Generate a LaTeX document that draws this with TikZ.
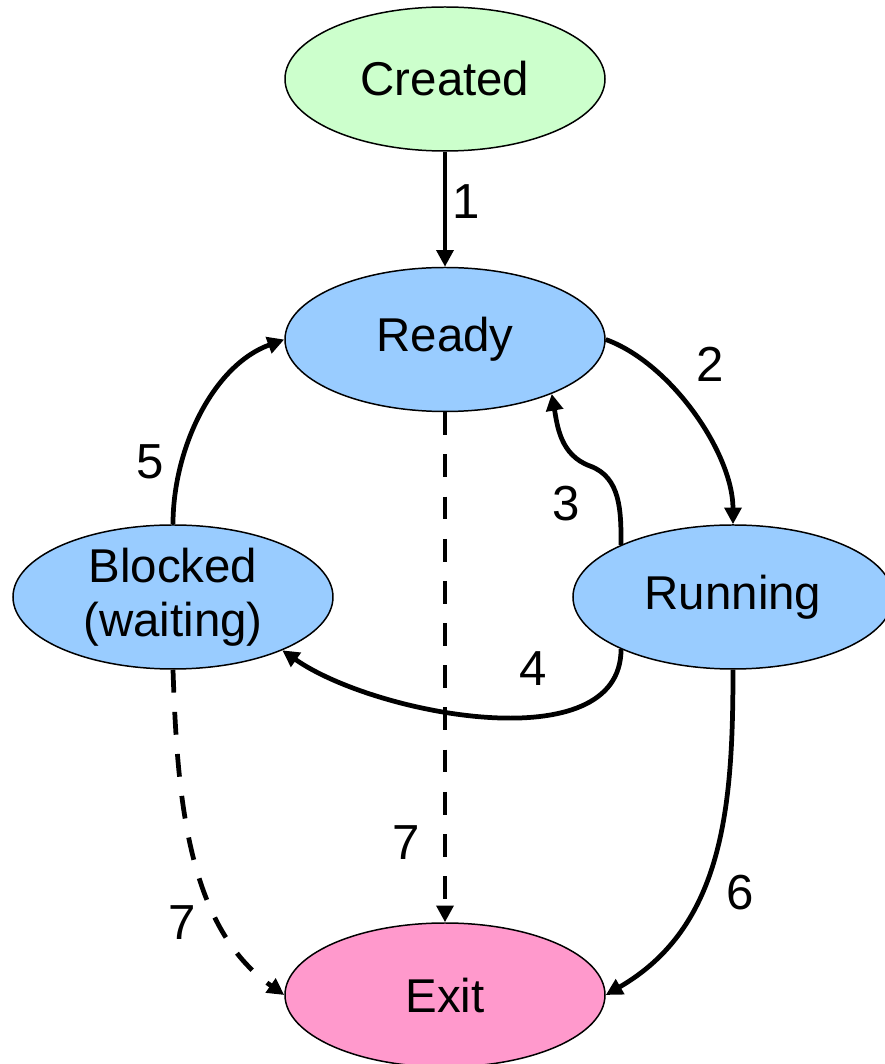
\documentclass[tikz,border=0pt]{standalone}
\usepackage{fontspec}
\setmainfont{Liberation Sans}
\usetikzlibrary{arrows.meta,shapes.geometric,positioning}

\definecolor{createdgreen}{HTML}{CCFFCC}
\definecolor{stateblue}{HTML}{99CCFF}
\definecolor{exitpink}{HTML}{FF99CC}

\begin{document}
\begin{tikzpicture}[
    > = {Triangle[length=9.5pt, width=9.5pt]}, %
    auto,
    node distance = 2.3cm, %
    line width = 2.7pt %
    ]

    \tikzset{
    proc/.style = {
    ellipse,
    draw = black,
    line width = 0.85pt,
    minimum width = 6.4cm,
    minimum height = 2.88cm,
    inner sep = 0pt,
    align = center,
    font = \fontsize{27}{31}\selectfont
    },
    num/.style = {font = \fontsize{28}{30}\selectfont, inner sep = 0pt},
    exitdash/.style = {dash pattern = on 13pt off 11pt}
    }

    \useasboundingbox (-8.9,1.58) rectangle (8.8,-19.70);

    \node[proc, fill = createdgreen] (created) at (0,0) {Created};
    \node[proc, fill = stateblue] (ready) [below=of created] {Ready};
    \node[proc, fill = stateblue] (blocked) [below=2.24cm of ready, xshift=-5.44cm] {Blocked\\(waiting)};
    \node[proc, fill = stateblue] (running) [right=4.77cm of blocked] {Running};
    \node[proc, fill = exitpink] (exit) [below=10.2cm of ready] {Exit};

    \coordinate (bend3) at (2.90,-7.74);

    \path[->] (created) edge (ready);
    \path[->] (ready.east) edge[out=-20, in=90, looseness=0.8] (running.north);
    \draw[->] (running.155) to[out=90, in=-20] (bend3) to[out=160, in=-80] (ready.-27);
    \path[->] (running.205) edge[out=-90, in=-35, looseness=0.85] (blocked.-26);
    \path[->] (blocked.north) edge[out=90, in=200, looseness=0.9] (ready.west);
    \path[->] (running.south) edge[out=-90, in=30] (exit.east);
    \path[->, exitdash] (ready) edge (exit);
    \path[->, exitdash] (blocked.south) edge[out=-88, in=145, looseness=0.9] (exit.west);

    \node[num] (n1) at (0.42,-2.46) {1};
    \node[num] (n2) at (5.30,-5.70) {2};
    \node[num] (n3) at (2.42,-8.50) {3};
    \node[num] (n4) at (1.76,-11.80) {4};
    \node[num] (n5) at (-5.90,-7.66) {5};
    \node[num] (n6) at (5.90,-16.28) {6};
    \node[num] (n7) at (-0.78,-15.28) {7};
    \node[num] (n8) at (-5.26,-16.88) {7};

\end{tikzpicture}
\end{document}
